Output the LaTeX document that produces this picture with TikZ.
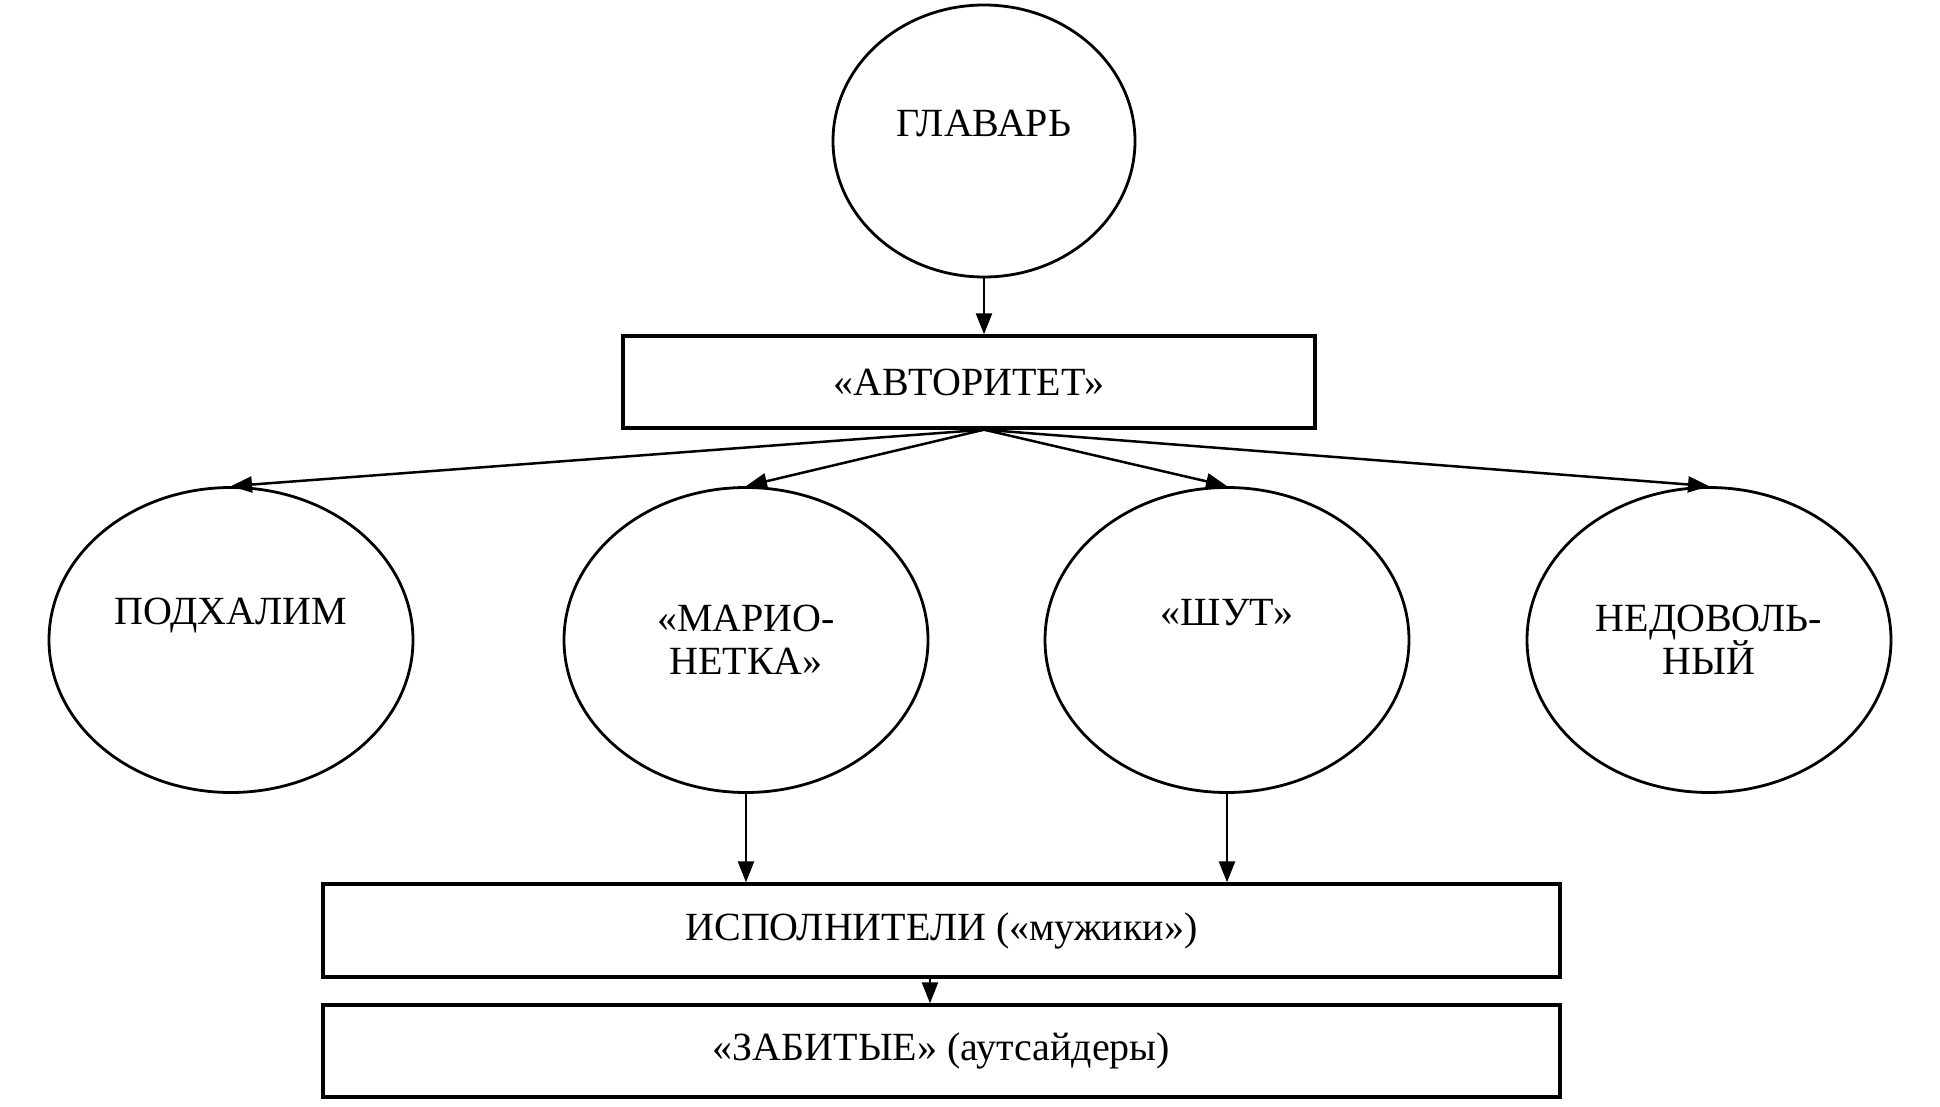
\documentclass[tikz,border=0pt]{standalone}
\usepackage{fontspec}
\setmainfont{Liberation Serif}
\usetikzlibrary{shapes.geometric,arrows.meta}
\tikzset{
  txt/.style={font=\fontsize{40}{43}\selectfont, align=center, inner sep=0pt},
  ell/.style={draw, ellipse, line width=2.8pt, minimum width=364pt, minimum height=305pt, inner sep=0pt},
  boxx/.style={draw, rectangle, line width=3.4pt, inner sep=0pt, font=\fontsize{40}{43}\selectfont},
  arr/.style={line width=2.5pt, -{Triangle[length=21pt,width=16pt]}}
}
\begin{document}
\begin{tikzpicture}[x=1pt,y=-1pt]
\useasboundingbox[fill=white] (0,0) rectangle (1940,1107);
% top circle
\node[ell, minimum width=302pt, minimum height=272pt, label={[txt,yshift=18pt]center:ГЛАВАРЬ}] (boss) at (984,141) {};
% authority box
\node[boxx, minimum width=692pt, minimum height=92pt] (auth) at (969,382) {«АВТОРИТЕТ»};
\coordinate (hub) at (boss.south |- auth.south);
% row of ellipses
\node[ell, label={[txt,yshift=24pt]center:ПОДХАЛИМ}] (pod) at (231,640) {};
\node[ell, label={[txt]center:«МАРИО-\\НЕТКА»}] (mar) at (746,640) {};
\node[ell, label={[txt,yshift=27pt]center:«ШУТ»}] (shut) at (1227,640) {};
\node[ell, label={[txt]center:НЕДОВОЛЬ-\\НЫЙ}] (ned) at (1709,640) {};
% bottom boxes
\node[boxx, minimum width=1237pt, minimum height=93pt] (isp) at (941.5,930.5) {ИСПОЛНИТЕЛИ («мужики»)};
\node[boxx, minimum width=1237pt, minimum height=92pt] (zab) at (941.5,1051) {«ЗАБИТЫЕ» (аутсайдеры)};
\coordinate (mid) at (930,990);
% connectors
\draw[arr] (boss.south) -- (boss.south |- auth.north);
\draw[arr] (hub) -- (pod.north);
\draw[arr] (hub) -- (mar.north);
\draw[arr] (hub) -- (shut.north);
\draw[arr] (hub) -- (ned.north);
\draw[arr] (mar.south) -- (mar.south |- isp.north);
\draw[arr] (shut.south) -- (shut.south |- isp.north);
\draw[arr] (isp.south -| mid) -- (zab.north -| mid);
\end{tikzpicture}
\end{document}
